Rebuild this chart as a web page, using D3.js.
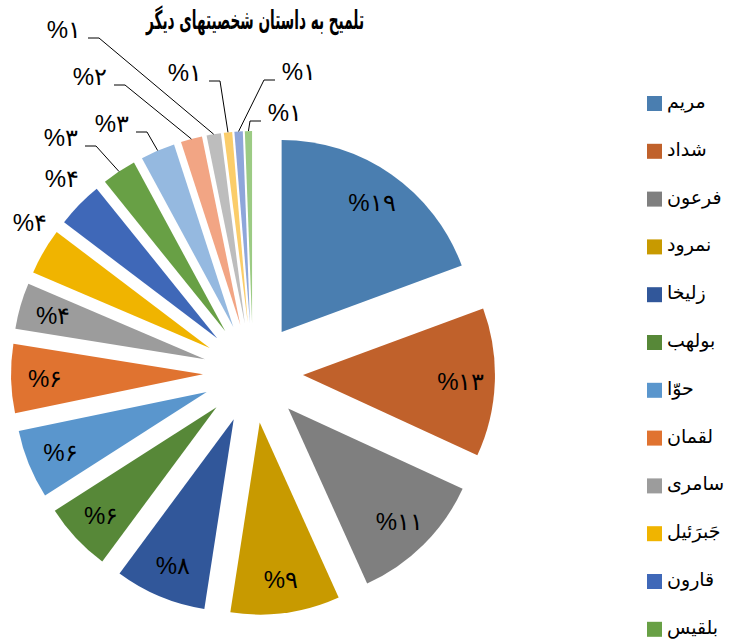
<!DOCTYPE html>
<html>
<head>
<meta charset="utf-8">
<script src="https://cdn.jsdelivr.net/npm/d3@7"></script>
<style>
  body { margin: 0; background: #fff; }
  svg { display: block; }
</style>
</head>
<body>
<div id="chart"></div>
<script>
// category names that can be read in the legend (the rest is cut off at the bottom)
const categories = ['مریم', 'شداد', 'فرعون', 'نمرود', 'زلیخا', 'بولهب', 'حوّا', 'لقمان', 'سامری', 'جَبرَئیل', 'قارون', 'بلقیس'];
// share of each slice in percent
const shares = [19.4, 12.5, 11.4, 9.2, 7.7, 5.8, 5.8, 5.8, 3.9, 3.9, 3.9, 2.9, 2.9, 1.8, 1.2, 0.7, 0.7, 0.6];
const colors = ['#4a7eb0', '#c0612b', '#7f7f7f', '#c89a00', '#31579a', '#578838',
                '#5a96cd', '#e07330', '#9c9c9c', '#f0b400', '#3f68b8', '#68a045',
                '#95b9e0', '#f2a584', '#bdbdbd', '#fbcd6a', '#8ea6da', '#9ccb84'];
const title = 'تلمیح به داستان شخصیتهای دیگر';

const W = 737, H = 640;
const cx = 253, cy = 373, radius = 192, explode = 50, labelR = 208;

// where the outside labels sit, relative to the pie centre
const callouts = {
  9:  {dx: -223, dy: -151, leader: false},
  10: {dx: -191, dy: -195, leader: false},
  11: {dx: -192, dy: -236, leader: true},
  12: {dx: -141, dy: -250, leader: true},
  13: {dx: -163, dy: -297, leader: true},
  14: {dx: -189, dy: -344, leader: true},
  15: {dx: -68,  dy: -301, leader: true},
  16: {dx: 46,   dy: -302, leader: true},
  17: {dx: 32,   dy: -261, leader: true}
};

const fa = n => String(n).replace(/\d/g, d => '۰۱۲۳۴۵۶۷۸۹'[d]);
const pctText = v => '%' + fa(Math.round(v));

const svg = d3.select('#chart').append('svg')
    .attr('width', W)
    .attr('height', H);

svg.append('text')
    .attr('x', 255)
    .attr('y', 29)
    .attr('text-anchor', 'middle')
    .attr('font-family', 'DejaVu Sans, sans-serif')
    .attr('font-weight', 'bold')
    .attr('font-size', 26)
    .attr('textLength', 218)
    .attr('lengthAdjust', 'spacingAndGlyphs')
    .text(title);

const pie = d3.pie().sort(null).value(d => d);
const arc = d3.arc().innerRadius(0).outerRadius(radius);
const arcs = pie(shares);

const mid = d => (d.startAngle + d.endAngle) / 2;
const polar = (a, r) => [Math.sin(a) * r, -Math.cos(a) * r];

const g = svg.append('g')
    .attr('transform', `translate(${cx},${cy})`);

g.selectAll('path.slice')
  .data(arcs)
  .enter().append('path')
    .attr('class', 'slice')
    .attr('d', arc)
    .attr('fill', (d, i) => colors[i])
    .attr('transform', d => {
      const [x, y] = polar(mid(d), explode);
      return `translate(${x},${y})`;
    });

const labelFont = 'Liberation Sans, Arial, sans-serif';
const labelSize = 24;

// labels inside the big slices
g.selectAll('text.inside')
  .data(arcs.filter((d, i) => !(i in callouts)))
  .enter().append('text')
    .attr('class', 'inside')
    .attr('x', d => polar(mid(d), labelR)[0])
    .attr('y', d => polar(mid(d), labelR)[1] + 9)
    .attr('text-anchor', 'middle')
    .attr('font-family', labelFont)
    .attr('font-size', labelSize)
    .attr('fill', '#000')
    .text(d => pctText(d.data));

// outside labels with leader lines
const outside = arcs.map((d, i) => ({d, i})).filter(o => o.i in callouts);
const halfW = 19;

outside.forEach(o => {
  const c = callouts[o.i];
  if (c.leader) {
    const [ax, ay] = polar(mid(o.d), radius + explode);
    const side = c.dx < ax ? 1 : -1;
    const x0 = c.dx + side * (halfW + 5);
    const x1 = x0 + side * 11;
    const yl = c.dy + 9;
    g.append('polyline')
        .attr('points', `${x0},${yl} ${x1},${yl} ${ax},${ay}`)
        .attr('fill', 'none')
        .attr('stroke', '#000')
        .attr('stroke-width', 1);
  }
  g.append('text')
      .attr('x', c.dx)
      .attr('y', c.dy + 9)
      .attr('text-anchor', 'middle')
      .attr('font-family', labelFont)
      .attr('font-size', labelSize)
      .attr('fill', '#000')
      .text(pctText(o.d.data));
});

// legend
const legend = svg.append('g')
    .attr('transform', 'translate(647,96)');

const item = legend.selectAll('g.item')
  .data(categories)
  .enter().append('g')
    .attr('class', 'item')
    .attr('transform', (d, i) => `translate(0,${i * 47.8})`);

item.append('rect')
    .attr('width', 15)
    .attr('height', 15)
    .attr('fill', (d, i) => colors[i]);

item.append('text')
    .attr('x', 20)
    .attr('y', 12)
    .attr('font-family', 'DejaVu Sans, sans-serif')
    .attr('font-size', 19)
    .attr('fill', '#000')
    .text(d => d);
</script>
</body>
</html>
